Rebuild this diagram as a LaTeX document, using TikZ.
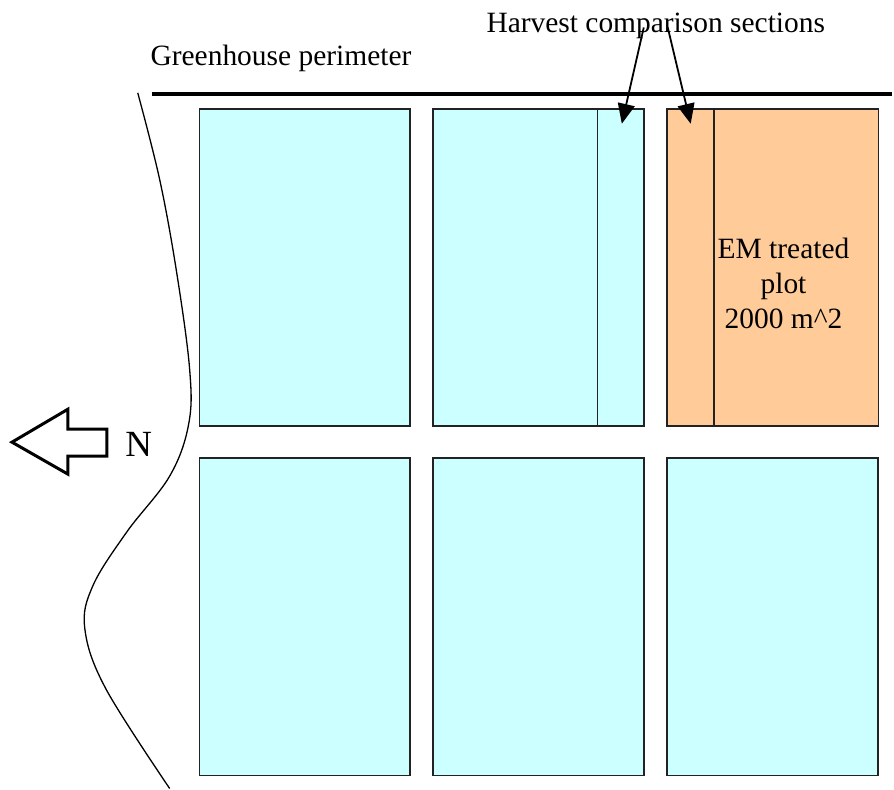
\documentclass[tikz,border=0pt]{standalone}
\usepackage{fontspec}
\setmainfont{Liberation Serif}
\usetikzlibrary{arrows.meta,calc,positioning}
\definecolor{plotCyan}{HTML}{CCFFFF}
\definecolor{plotOrange}{HTML}{FFCC99}
\definecolor{plotEdge}{HTML}{222222}

\begin{document}
\begin{tikzpicture}[x=1pt,y=-1pt,>=Latex,line cap=butt,line join=miter]
\path[fill=white] (0,0) rectangle (894,790);
\tikzset{plot/.style={draw=plotEdge,fill=plotCyan,line width=1.6pt,minimum width=211pt,minimum height=318pt,inner sep=0pt},emplot/.style={plot,fill=plotOrange,minimum width=212pt},lbl/.style={font=\fontsize{29.5}{35}\selectfont,inner sep=0pt},pointer/.style={draw=black,line width=1.8pt,-{Triangle[length=20pt,width=17pt]}}}
% greenhouse edge and the heading texts
\node[lbl,anchor=base] (perimlbl) at (281.5,66) {Greenhouse perimeter};
\coordinate (perimL) at (152,94); \coordinate (perimR) at (894,94);
\draw[line width=3.4pt] (perimL) -- (perimR);
\node[lbl,anchor=base] (harvest) at (657,33) {Harvest comparison sections};
% the six plots
\node[plot] (p11) at (305.5,268) {}; \node[plot] (p12) at (539.5,268) {}; \node[emplot] (p13) at (774,268) {};
\node[plot] (p21) at (305.5,618) {}; \node[plot] (p22) at (539.5,618) {}; \node[plot] (p23) at (774,618) {};
\draw[draw=plotEdge,line width=1.6pt] ([xshift=-47pt]p12.north east) -- ([xshift=-47pt]p12.south east);
\draw[draw=plotEdge,line width=1.6pt] ([xshift=48pt]p13.north west) -- ([xshift=48pt]p13.south west);
\node[lbl,align=center] (emlbl) at (785,284) {EM treated\\plot\\2000 m\^{}2};
% pointers to the comparison strips
\coordinate (secA) at (623,124); \coordinate (secB) at (692,124);
\draw[pointer] ([xshift=-12pt,yshift=12pt]harvest.south) -- (secA);
\draw[pointer] ([xshift=12pt,yshift=12pt]harvest.south) -- (secB);
% north arrow
\draw[line width=3pt] (12,443) -- (68,410) -- (68,430) -- (107,430) -- (107,457) -- (68,457) -- (68,475) -- cycle;
\node[lbl,font=\fontsize{37}{40}\selectfont,anchor=base] (north) at (139,457) {N};
% wavy field edge
\draw[line width=1.3pt] plot[smooth,tension=0.6] coordinates {(138,93) (160,180) (177,273) (190,370) (189,425) (170,477) (127,533) (93,587) (85,630) (106,690) (170,790)};
\end{tikzpicture}
\end{document}
